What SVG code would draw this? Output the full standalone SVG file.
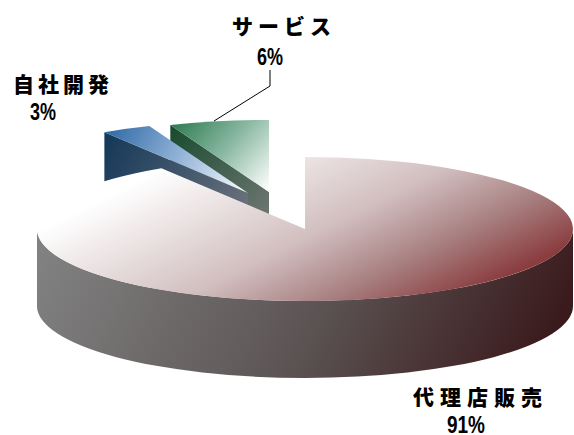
<svg xmlns="http://www.w3.org/2000/svg" width="574" height="435" viewBox="0 0 574 435">
<style>
.jp{font-family:"Noto Sans CJK JP","Noto Sans CJK SC",sans-serif;font-weight:900;font-size:21px;fill:#000}
.num{font-family:"Liberation Sans",Arial,sans-serif;font-weight:bold;font-size:24px;fill:#000}
.lead{fill:none;stroke:#000;stroke-width:1}
</style>
<defs>
<linearGradient id="gMainTop" gradientUnits="userSpaceOnUse" x1="100" y1="200" x2="212" y2="424">
<stop offset="0" stop-color="#ffffff"/>
<stop offset="0.5" stop-color="#d2bfc0"/>
<stop offset="0.75" stop-color="#aa8384"/>
<stop offset="1" stop-color="#8a3c3e"/>
</linearGradient>
<linearGradient id="gMainSide" gradientUnits="userSpaceOnUse" x1="60" y1="220" x2="500" y2="440">
<stop offset="0" stop-color="#818181"/>
<stop offset="0.55" stop-color="#5c5454"/>
<stop offset="1" stop-color="#3a1a1c"/>
</linearGradient>
<linearGradient id="gGreenTop" gradientUnits="userSpaceOnUse" x1="175" y1="118" x2="265" y2="195">
<stop offset="0" stop-color="#2c7a4e"/>
<stop offset="0.5" stop-color="#8ab8a2"/>
<stop offset="1" stop-color="#ffffff"/>
</linearGradient>
<linearGradient id="gGreenCut" gradientUnits="userSpaceOnUse" x1="170" y1="125" x2="269" y2="215">
<stop offset="0" stop-color="#184a2e"/>
<stop offset="1" stop-color="#6e7672"/>
</linearGradient>
<linearGradient id="gBlueTop" gradientUnits="userSpaceOnUse" x1="110" y1="125" x2="240" y2="192">
<stop offset="0" stop-color="#2f6aa6"/>
<stop offset="0.5" stop-color="#8fb0d6"/>
<stop offset="1" stop-color="#f2f6fc"/>
</linearGradient>
<linearGradient id="gBlueCut" gradientUnits="userSpaceOnUse" x1="104" y1="150" x2="250" y2="215">
<stop offset="0" stop-color="#173a5a"/>
<stop offset="1" stop-color="#6c727c"/>
</linearGradient>
</defs>

<g id="slice-service">
<path d="M170.3,125.1 L269,192 L269,269 L170.3,202.1 Z" fill="url(#gGreenCut)"/>
<path d="M269,192 L269,120 A268,72 0 0,0 170.3,125.1 Z" fill="url(#gGreenTop)"/>
</g>

<g id="slice-inhouse">
<path d="M104.4,132.2 L248,193 L248,270 L104.4,209.2 Z" fill="url(#gBlueCut)"/>
<path d="M248,193 L149.3,126.1 A268,72 0 0,0 104.4,132.2 Z" fill="url(#gBlueTop)"/>
</g>

<g id="slice-agency">
<path d="M37,229 A268,72 0 0,0 573,229 L573,306 A268,72 0 0,1 37,306 Z" fill="url(#gMainSide)"/>
<path d="M305,229 L305,157 A268,72 0 1,1 161.4,168.2 Z" fill="url(#gMainTop)"/>
</g>

<g id="connectors">
<polyline class="lead" points="270,70 270,86 214,121"/>
</g>

<g id="label-service">
<text class="jp" x="232" y="34" letter-spacing="5">サービス</text>
<text class="num" x="257" y="65" textLength="26" lengthAdjust="spacingAndGlyphs">6%</text>
</g>
<g id="label-inhouse">
<text class="jp" x="13" y="92" letter-spacing="4">自社開発</text>
<text class="num" x="30" y="120" textLength="26" lengthAdjust="spacingAndGlyphs">3%</text>
</g>
<g id="label-agency">
<text class="jp" x="413" y="405" letter-spacing="6">代理店販売</text>
<text class="num" x="447" y="433" textLength="38" lengthAdjust="spacingAndGlyphs">91%</text>
</g>
</svg>
